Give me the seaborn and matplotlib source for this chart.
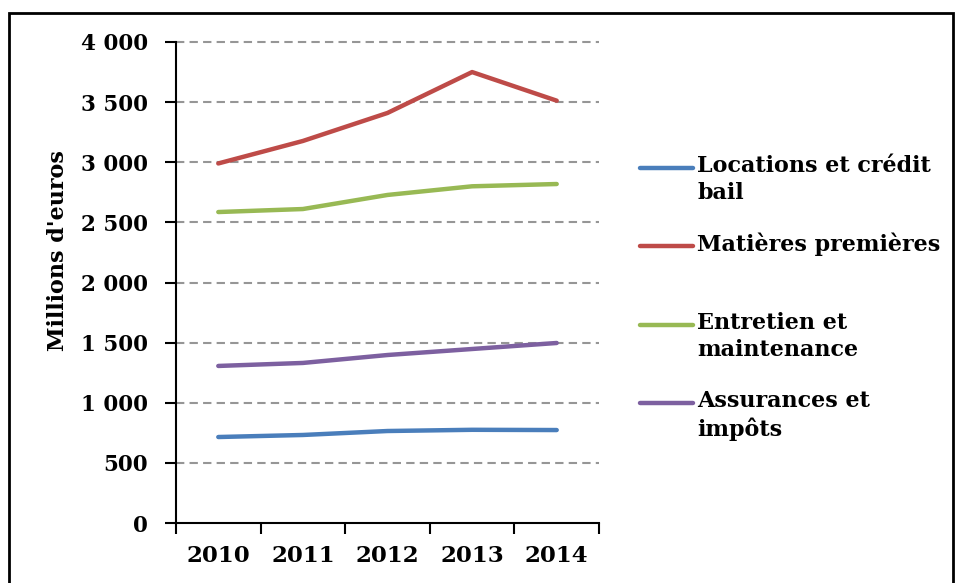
import matplotlib
matplotlib.use("Agg")
import matplotlib.pyplot as plt
from matplotlib.lines import Line2D
from matplotlib.patches import Rectangle
from matplotlib.ticker import FixedLocator, FuncFormatter
import seaborn as sns
import pandas as pd

years = ["2010", "2011", "2012", "2013", "2014"]
series_names = ["Locations et crédit\nbail", "Matières premières",
                "Entretien et\nmaintenance", "Assurances et\nimpôts"]
locations = [715, 732, 765, 775, 773]
matieres = [2990, 3177, 3410, 3750, 3512]
entretien = [2586, 2611, 2728, 2800, 2819]
assurances = [1306, 1331, 1397, 1447, 1497]
colors = ["#4A7EBB", "#BE4B48", "#98B954", "#7D60A0"]
y_ticks = [0, 500, 1000, 1500, 2000, 2500, 3000, 3500, 4000]

values = [locations, matieres, entretien, assurances]
rows = []
for name, vals in zip(series_names, values):
    for i, v in enumerate(vals):
        rows.append({"x": i, "year": years[i], "serie": name, "value": v})
df = pd.DataFrame(rows)

sns.set_theme(style="white")
plt.rcParams["font.family"] = ["DejaVu Serif"]
plt.rcParams["font.weight"] = "bold"
plt.rcParams["text.color"] = "black"
plt.rcParams["xtick.color"] = "black"
plt.rcParams["ytick.color"] = "black"
plt.rcParams["axes.labelcolor"] = "black"

W, H = 957, 583
fig = plt.figure(figsize=(W / 100, H / 100), dpi=100)
ax = fig.add_axes([176 / W, 1 - 523 / H, (599 - 176) / W, (523 - 42) / H])

sns.lineplot(data=df, x="x", y="value", hue="serie", palette=colors,
             hue_order=series_names, linewidth=3.2, legend=False, ax=ax,
             sort=False)
for ln in ax.get_lines():
    ln.set_solid_capstyle("round")
    ln.set_solid_joinstyle("round")

ax.set_xlim(-0.5, 4.5)
ax.set_ylim(0, 4000)
ax.yaxis.set_major_locator(FixedLocator(y_ticks))
ax.yaxis.set_major_formatter(FuncFormatter(lambda v, p: f"{int(v):,}".replace(",", " ")))
ax.set_xticks([-0.5, 0.5, 1.5, 2.5, 3.5, 4.5])
ax.set_xticklabels([])
ax.set_xticks(range(len(years)), minor=True)
ax.set_xticklabels(years, minor=True)

ax.tick_params(axis="x", which="major", direction="out", length=8, width=1.5,
               color="black", bottom=True)
ax.tick_params(axis="x", which="minor", length=0, pad=16, labelsize=16.5,
               labelcolor="black")
ax.tick_params(axis="y", direction="out", length=8, width=1.5, color="black",
               left=True, pad=12, labelsize=15.5, labelcolor="black")
for lbl in ax.get_xticklabels(minor=True) + ax.get_yticklabels():
    lbl.set_fontweight("bold")

for sp in ["top", "right"]:
    ax.spines[sp].set_visible(False)
for sp in ["left", "bottom"]:
    ax.spines[sp].set_color("black")
    ax.spines[sp].set_linewidth(1.5)

for t in y_ticks[1:]:
    ax.axhline(t, color="#969696", linestyle=(0, (4, 2.5)), linewidth=1.5,
               zorder=0.5, clip_on=False)

ax.set_xlabel("")
ax.set_ylabel("Millions d'euros", fontsize=16, fontweight="bold", color="black")
ax.yaxis.set_label_coords((69 - 176) / 423, (523 - 251) / 481)

# legend (drawn manually to keep keys on the first text line)
leg_y = [168, 246, 325, 403]
for name, col, yy in zip(series_names, colors, leg_y):
    fy = 1 - yy / H
    fig.add_artist(Line2D([640 / W, 693 / W], [fy, fy], color=col, linewidth=3.2,
                          solid_capstyle="round", transform=fig.transFigure))
    fig.text(697 / W, fy + 13 / H, name, fontsize=16, fontweight="bold",
             va="top", ha="left", linespacing=1.3, color="black",
             transform=fig.transFigure)

# outer frame
fig.add_artist(Rectangle((9 / W, -0.1), (953 - 9) / W, 1.1 - 13 / H,
                         fill=False, edgecolor="black", linewidth=2,
                         transform=fig.transFigure))

fig.savefig("out.png", dpi=100)
